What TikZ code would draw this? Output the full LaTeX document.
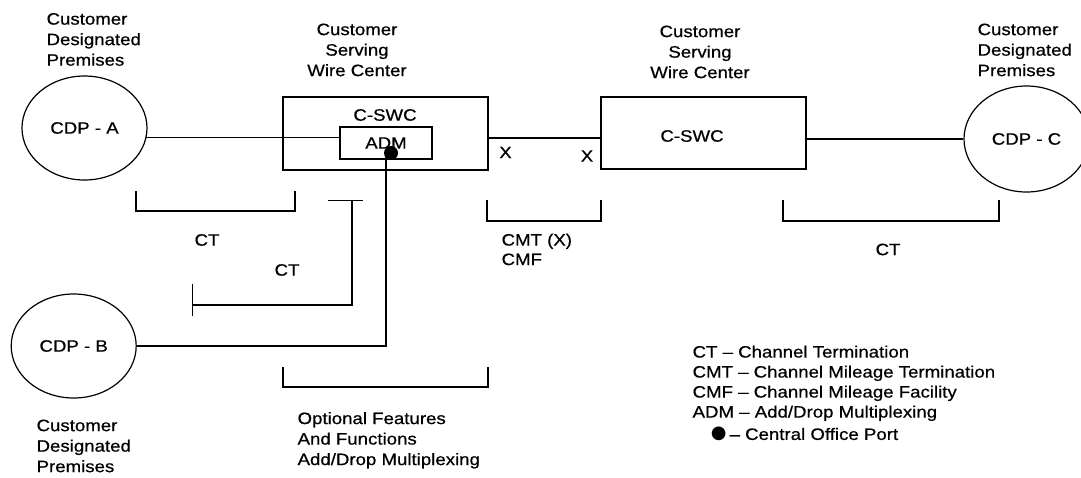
\documentclass[tikz,border=0pt]{standalone}
\usepackage{fontspec}
\setmainfont[FakeStretch=1.13,FakeBold=0.6]{Liberation Sans}
\newfontfamily\dejavu{DejaVu Sans}
\usetikzlibrary{shapes.geometric}
\begin{document}
\begin{tikzpicture}[x=1pt,y=-1pt, line width=1.2pt,
  every node/.style={font=\fontsize{16.5}{20.5}\selectfont, inner sep=0pt},
  cdp/.style={draw, ellipse, minimum width=125pt, minimum height=104pt},
  swcbox/.style={draw, rectangle, minimum width=205pt, minimum height=72pt},
  lbl/.style={align=left, anchor=north west},
  clbl/.style={align=center, anchor=north}]
\useasboundingbox (0,0) rectangle (1081,477);
\fill[white] (0,0) rectangle (1081,477);

% main nodes
\node[cdp] (cdpA) at (84.5,128) {CDP - A};
\node[cdp] (cdpB) at (73.7,346) {CDP - B};
\node[cdp, minimum height=106pt] (cdpC) at (1026.5,139) {CDP - C};
\node[swcbox, minimum height=73pt] (swc1) at (385.5,133.5) {};
\node[swcbox] (swc2) at (703.5,133) {};
\node[draw, minimum width=92pt, minimum height=32pt] (adm) at (386,143) {ADM};
\node (swc1t) at (385,115) {C-SWC};
\node (swc2t) at (692,136) {C-SWC};

% connectors
\draw (cdpA.-9.3) -- (cdpA.-9.3 -| adm.west);
\draw ([yshift=-4.5pt]swc1.east) -- ([yshift=-4.5pt]swc1.east -| swc2.west);
\draw ([yshift=-6pt]swc2.east) -- (cdpC.west);
\node[circle, fill, minimum size=14pt] (port) at (391,153) {};
\draw ([xshift=-5pt]port.center) -- ([xshift=-5pt]port.center |- cdpB.east) -- (cdpB.east);

% brackets
\draw (136,191) -- (136,211) -- (295,211) -- (295,191);
\draw (327.7,200.7) -- (363.3,200.7);
\draw (352,200.7) -- (352,305) -- (192.7,305);
\draw (192.7,284) -- (192.7,316);
\draw (487,200) -- (487,221) -- (601,221) -- (601,200);
\draw (783,200) -- (783,221) -- (999,221) -- (999,200);
\draw (283,367) -- (283,387) -- (488,387) -- (488,367);

% labels
\node (ctA) at (207,240) {CT};
\node (ctB) at (287,270) {CT};
\node (ctC) at (888,249.5) {CT};
\node (xA) at (505.5,152.5) {X};
\node (xB) at (587,156) {X};

\node[lbl] (labA) at (46,12.5) {Customer\\Designated\\Premises};
\node[clbl] (labS1) at (357,23) {Customer\\Serving\\Wire Center};
\node[clbl] (labS2) at (700,25) {Customer\\Serving\\Wire Center};
\node[lbl] (labC) at (977,23) {Customer\\Designated\\Premises};
\node[lbl] (labB) at (36,419) {Customer\\Designated\\Premises};
\node[lbl, font=\fontsize{16.5}{19.5}\selectfont] (cmt) at (501,233) {CMT (X)\\CMF};
\node[lbl] (opt) at (297,411.5) {Optional Features\\And Functions\\Add/Drop Multiplexing};

% legend
\node[lbl, font=\fontsize{16.5}{20}\selectfont] (leg) at (692,345) {CT – Channel Termination\\CMT – Channel Mileage Termination\\CMF – Channel Mileage Facility\\ADM – Add/Drop Multiplexing};
\node[font=\fontsize{18}{20}\selectfont] (legdot) at (718.7,433.7) {\dejavu ●};
\node[anchor=west] (legport) at (729,434) {– Central Office Port};
\end{tikzpicture}
\end{document}
